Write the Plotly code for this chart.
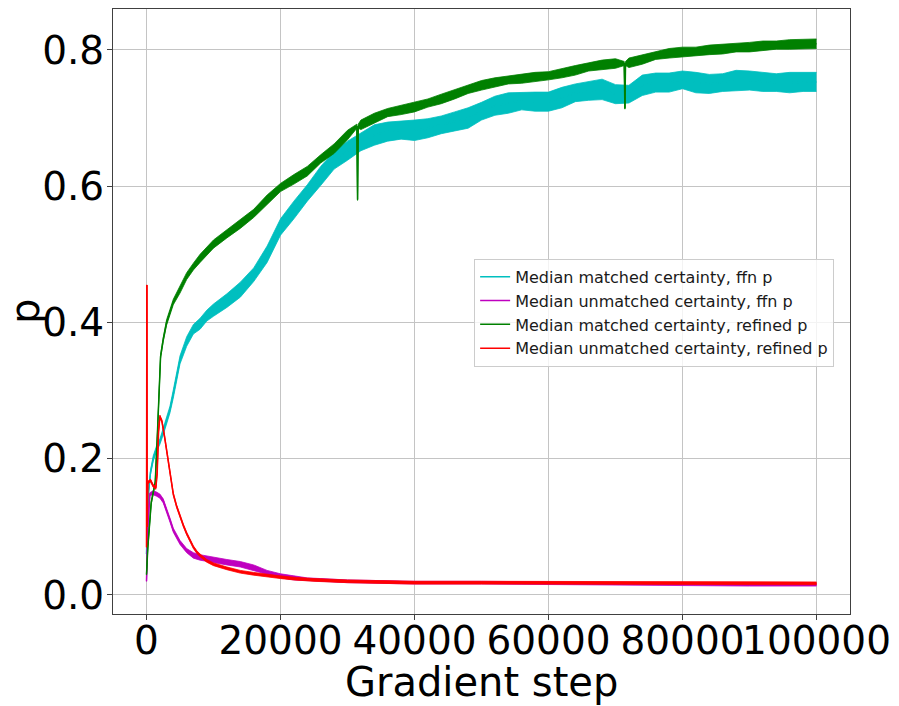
import plotly.graph_objects as go

# ---------------- data ----------------
cyan_steps = [0, 300, 600, 1000, 1500, 2000, 2500, 3000, 3500, 4000, 4500, 5000, 6000, 7000, 8000, 9000, 10000,
              12000, 14000, 16000, 18000, 20000, 22000, 24000, 26000, 28000, 30000,
              32000, 34000, 36000, 38000, 40000, 42000, 44000, 46000, 48000, 50000,
              52000, 54000, 56000, 58000, 60000, 62000, 64000, 66000, 68000, 70000,
              72000, 74000, 76000, 78000, 80000, 82000, 84000, 86000, 88000, 90000,
              92000, 94000, 96000, 98000, 100000]
cyan_vals = [0.06, 0.15, 0.18, 0.20, 0.215, 0.225, 0.24, 0.255, 0.272, 0.295, 0.32, 0.345, 0.372, 0.39, 0.398, 0.41, 0.418,
             0.432, 0.448, 0.47, 0.50, 0.54, 0.565, 0.59, 0.615, 0.638, 0.652,
             0.665, 0.675, 0.68, 0.682, 0.682, 0.685, 0.69, 0.695, 0.70, 0.71,
             0.718, 0.722, 0.725, 0.724, 0.724, 0.73, 0.737, 0.74, 0.742, 0.735,
             0.735, 0.748, 0.752, 0.752, 0.756, 0.752, 0.75, 0.752, 0.755, 0.755,
             0.753, 0.752, 0.752, 0.753, 0.753]
cyan_noise = [0.002, 0.003, 0.003, 0.004, 0.004, 0.004, 0.005, 0.005, 0.005, 0.006, 0.006, 0.006, 0.007, 0.007, 0.008, 0.008, 0.009,
              0.010, 0.011, 0.010, 0.012, 0.012, 0.013, 0.012, 0.014, 0.013, 0.014,
              0.013, 0.015, 0.014, 0.013, 0.015, 0.014, 0.013, 0.014, 0.015, 0.013,
              0.014, 0.015, 0.013, 0.014, 0.014, 0.015, 0.013, 0.014, 0.015, 0.014,
              0.013, 0.015, 0.014, 0.014, 0.013, 0.015, 0.014, 0.013, 0.015, 0.014,
              0.014, 0.013, 0.015, 0.014, 0.014]

purple_steps = [0, 200, 500, 1000, 1500, 2000, 2500, 3000, 3500, 4000, 4500, 5000, 6000, 7000, 8000, 9000, 10000,
                12000, 14000, 16000, 18000, 20000, 22000, 24000, 26000, 28000, 30000, 35000, 40000, 50000,
                60000, 70000, 80000, 90000, 100000]
purple_vals = [0.02, 0.10, 0.148, 0.15, 0.148, 0.145, 0.138, 0.125, 0.11, 0.095, 0.085, 0.077, 0.065, 0.058, 0.055, 0.053, 0.052,
               0.048, 0.045, 0.04, 0.033, 0.028, 0.025, 0.023, 0.022, 0.021, 0.02, 0.019, 0.018, 0.018,
               0.017, 0.016, 0.015, 0.015, 0.015]
purple_noise = [0.0, 0.0, 0.002, 0.003, 0.003, 0.003, 0.003, 0.003, 0.003, 0.003, 0.003, 0.003, 0.003, 0.004, 0.004, 0.004, 0.004,
                0.004, 0.004, 0.004, 0.003, 0.003, 0.003, 0.002, 0.002, 0.002, 0.002, 0.002, 0.002, 0.002,
                0.002, 0.002, 0.002, 0.002, 0.002]

green_steps = [0, 200, 700, 1300, 1600, 1900, 2100, 2500, 3000, 4000, 5000, 6000, 7000, 8000, 10000,
               12000, 14000, 16000, 18000, 20000, 22000, 24000, 26000, 28000, 30000,
               31400, 31500, 31600,
               32000, 34000, 36000, 38000, 40000, 42000, 44000, 46000, 48000, 50000,
               52000, 54000, 56000, 58000, 60000, 62000, 64000, 66000, 68000, 70000,
               71300, 71400, 71500,
               72000, 74000, 76000, 78000, 80000, 82000, 84000, 86000, 88000, 90000,
               92000, 94000, 96000, 98000, 100000]
green_vals = [0.03, 0.07, 0.135, 0.165, 0.23, 0.31, 0.35, 0.375, 0.40, 0.43, 0.448, 0.468, 0.482, 0.494, 0.515,
              0.53, 0.545, 0.56, 0.58, 0.598, 0.61, 0.622, 0.64, 0.655, 0.675,
              0.688, 0.58, 0.688,
              0.69, 0.70, 0.708, 0.712, 0.716, 0.722, 0.728, 0.735, 0.742, 0.748,
              0.752, 0.756, 0.758, 0.76, 0.762, 0.766, 0.77, 0.775, 0.778, 0.78,
              0.78, 0.714, 0.78,
              0.781, 0.786, 0.792, 0.795, 0.797, 0.798, 0.80, 0.801, 0.803, 0.804,
              0.806, 0.807, 0.808, 0.809, 0.809]
green_noise = [0.001, 0.002, 0.002, 0.002, 0.002, 0.002, 0.003, 0.003, 0.004, 0.004, 0.005, 0.005, 0.005, 0.006, 0.006,
               0.006, 0.007, 0.006, 0.007, 0.006, 0.007, 0.007, 0.006, 0.007, 0.007,
               0.003, 0.001, 0.003,
               0.007, 0.007, 0.006, 0.007, 0.007, 0.006, 0.007, 0.007, 0.006, 0.007,
               0.007, 0.006, 0.007, 0.007, 0.006, 0.007, 0.007, 0.006, 0.007, 0.007,
               0.003, 0.001, 0.003,
               0.007, 0.007, 0.006, 0.007, 0.007, 0.006, 0.007, 0.007, 0.006, 0.007,
               0.007, 0.006, 0.007, 0.007, 0.007]

red_steps = [0, 50, 100, 200, 600, 1000, 1400, 1600, 1800, 2000,
             2300, 2700, 3200, 3600, 4000, 4500, 5000, 5500, 6000, 6500,
             7000, 7500, 8000, 9000, 10000, 12000, 14000, 16000, 18000, 20000,
             22000, 25000, 30000, 35000, 40000, 50000, 60000, 70000, 80000, 90000, 100000]
red_vals = [0.07, 0.455, 0.10, 0.165, 0.168, 0.16, 0.157, 0.18, 0.24, 0.262,
            0.255, 0.232, 0.20, 0.172, 0.148, 0.13, 0.115, 0.102, 0.09, 0.079,
            0.07, 0.063, 0.058, 0.05, 0.045, 0.039, 0.034, 0.031, 0.028, 0.026,
            0.024, 0.022, 0.02, 0.019, 0.018, 0.018, 0.018, 0.018, 0.017, 0.017, 0.017]
red_noise = [0.0, 0.0, 0.0, 0.002, 0.002, 0.002, 0.002, 0.002, 0.002, 0.002,
             0.002, 0.002, 0.002, 0.002, 0.002, 0.002, 0.002, 0.002, 0.002, 0.002,
             0.002, 0.002, 0.002, 0.002, 0.002, 0.002, 0.002, 0.002, 0.002, 0.002,
             0.002, 0.002, 0.002, 0.002, 0.002, 0.002, 0.002, 0.002, 0.002, 0.002, 0.002]

series_names = ["Median matched certainty, ffn p",
                "Median unmatched certainty, ffn p",
                "Median matched certainty, refined p",
                "Median unmatched certainty, refined p"]

x_tick_vals = [0, 20000, 40000, 60000, 80000, 100000]
x_tick_text = ["0", "20000", "40000", "60000", "80000", "100000"]
y_tick_vals = [0.0, 0.2, 0.4, 0.6, 0.8]
y_tick_text = ["0.0", "0.2", "0.4", "0.6", "0.8"]

# ---------------- figure ----------------
FONT = "DejaVu Sans"
fig = go.Figure()


def add_series(steps, vals, noise, color, name, width):
    upper = [v + n for v, n in zip(vals, noise)]
    lower = [v - n for v, n in zip(vals, noise)]
    fig.add_trace(go.Scatter(x=steps, y=upper, mode="lines", line=dict(color=color, width=0.8),
                             showlegend=False, hoverinfo="skip"))
    fig.add_trace(go.Scatter(x=steps, y=lower, mode="lines", line=dict(color=color, width=0.8),
                             fill="tonexty", fillcolor=color, showlegend=False, hoverinfo="skip"))
    fig.add_trace(go.Scatter(x=steps, y=vals, mode="lines", line=dict(color=color, width=width),
                             name=name))


add_series(cyan_steps, cyan_vals, cyan_noise, "#00BFBF", series_names[0], 1.5)
add_series(purple_steps, purple_vals, purple_noise, "#BF00BF", series_names[1], 1.5)
add_series(green_steps, green_vals, green_noise, "#008000", series_names[2], 1.5)
add_series(red_steps, red_vals, red_noise, "#FF0000", series_names[3], 1.5)

axis_common = dict(
    showgrid=True, gridcolor="#c4c4c4", gridwidth=1,
    showline=True, linecolor="#404040", linewidth=1, mirror=True,
    ticks="outside", ticklen=5, tickwidth=1, tickcolor="#404040",
    tickfont=dict(family=FONT, size=39, color="black"),
    zeroline=False,
)

fig.update_xaxes(range=[-5000, 105000], tickmode="array", tickvals=x_tick_vals, ticktext=x_tick_text,
                 tickangle=0, ticklabelstandoff=-13, **axis_common)
fig.update_yaxes(range=[-0.028, 0.860], tickmode="array", tickvals=y_tick_vals, ticktext=y_tick_text,
                 ticklabelstandoff=-5, **axis_common)

fig.update_layout(
    width=899, height=706,
    margin=dict(l=113, r=47, t=8, b=92),
    paper_bgcolor="white", plot_bgcolor="white",
    font=dict(family=FONT, color="black"),
    showlegend=True,
    legend=dict(x=0.49, y=0.587, xanchor="left", yanchor="top", traceorder="normal",
                bgcolor="rgba(255,255,255,0.8)", bordercolor="#cccccc", borderwidth=1,
                font=dict(family=FONT, size=16, color="#1a1a1a"),
                tracegroupgap=0, itemwidth=30),
    annotations=[
        dict(text="Gradient step", xref="paper", yref="paper", x=0.5, y=-0.113,
             xanchor="center", yanchor="middle", showarrow=False,
             font=dict(family=FONT, size=40, color="black")),
        dict(text="p", xref="paper", yref="paper", x=-0.12, y=0.5,
             xanchor="center", yanchor="middle", showarrow=False, textangle=-90,
             font=dict(family=FONT, size=40, color="black")),
    ],
)

fig.write_html("out.html")
